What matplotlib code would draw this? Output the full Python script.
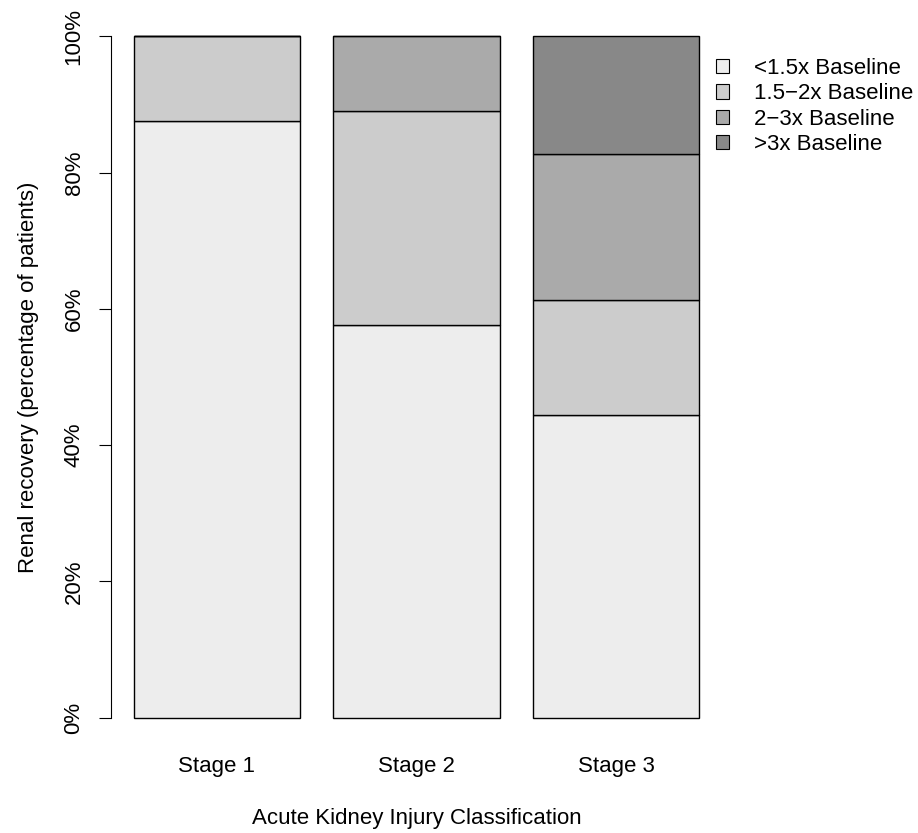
import numpy as np
import matplotlib
matplotlib.use('Agg')
import matplotlib.pyplot as plt
from matplotlib.patches import Patch

plt.rcParams['font.family'] = ['Liberation Sans', 'DejaVu Sans']

stages = ['Stage 1', 'Stage 2', 'Stage 3']
levels = ['<1.5x Baseline', '1.5\u22122x Baseline', '2\u22123x Baseline', '>3x Baseline']
# percentage of patients in each recovery group, per AKI stage
below_15 = [87.6, 57.7, 44.4]
from_15_to_2 = [12.4, 31.4, 16.9]
from_2_to_3 = [0.0, 10.9, 21.4]
above_3 = [0.0, 0.0, 17.3]
colours = ['#EDEDED', '#CCCCCC', '#AAAAAA', '#888888']

fs = 16
dpi = 100
fig = plt.figure(figsize=(918 / dpi, 833 / dpi), dpi=dpi)
ax = fig.add_axes([111 / 918, 1 - 745 / 833, 611 / 918, 736 / 833])

# barplot-style positions: width 1, gap 0.2
x = 0.2 + np.arange(len(stages)) * 1.2 + 0.5
bottom = np.zeros(len(stages))
for vals, col in zip([below_15, from_15_to_2, from_2_to_3, above_3], colours):
    v = np.array(vals) / 100
    ax.bar(x, v, width=1.0, bottom=bottom, color=col, edgecolor='black', linewidth=1.0)
    bottom += v

ax.set_xlim(0.064, 3.736)
ax.set_ylim(-0.04, 1.04)

for s in ['top', 'right', 'bottom']:
    ax.spines[s].set_visible(False)
ax.spines['left'].set_bounds(0, 1)

ax.set_yticks(np.linspace(0, 1, 6))
ax.set_yticklabels(['0%', '20%', '40%', '60%', '80%', '100%'], rotation=90, va='center', fontsize=fs)
ax.tick_params(axis='y', length=9, pad=10)
ax.set_xticks(x)
ax.set_xticklabels(stages, fontsize=fs)
ax.tick_params(axis='x', length=0, pad=8)

ax.set_xlabel('Acute Kidney Injury Classification', fontsize=fs, labelpad=22)
ax.set_ylabel('Renal recovery (percentage of patients)', fontsize=fs, labelpad=18)

handles = [Patch(facecolor=c, edgecolor='black', linewidth=0.8) for c in colours]
fig.legend(handles, levels, loc='upper left', bbox_to_anchor=(707 / 918, 1 - 49 / 833),
           frameon=False, fontsize=fs, handlelength=0.6, handleheight=0.6,
           handletextpad=1.1, labelspacing=0.2, borderaxespad=0)

fig.savefig('out.png', dpi=dpi)
